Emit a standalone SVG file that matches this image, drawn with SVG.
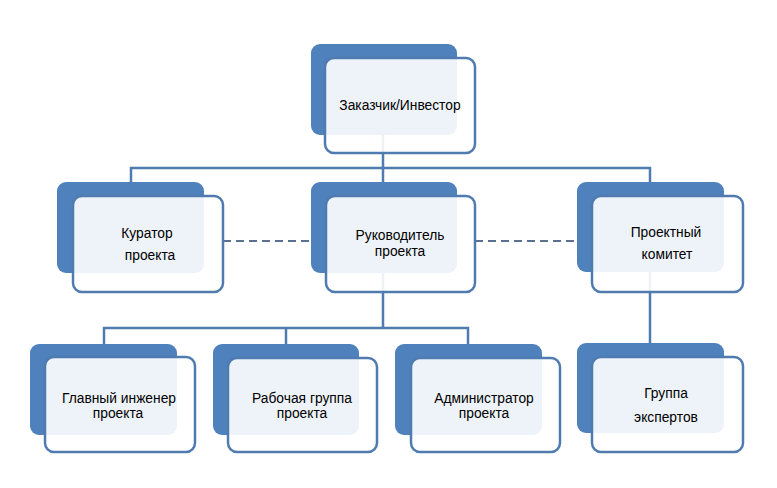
<svg xmlns="http://www.w3.org/2000/svg" width="777" height="488" viewBox="0 0 777 488">
<style>
.back{fill:#4f81bd;}
.front{fill:#ffffff;fill-opacity:0.9;stroke:#4f7bb0;stroke-width:2.5;}
.ln{fill:none;stroke:#4f7bb0;stroke-width:2.5;}
.dash{fill:none;stroke:#5b7190;stroke-width:2;stroke-dasharray:8 5;}
text{font-family:"Liberation Sans",Arial,sans-serif;font-size:13.8px;fill:#000;text-anchor:middle;}
</style>
<rect width="777" height="488" fill="#ffffff"/>
<g id="connectors">
<path class="ln" d="M383,135 V168 M131,182 V168 H650 V182 M383,168 V182"/>
<path class="ln" d="M383,273 V328 M104,344 V328 H468 V344 M286,328 V344"/>
<path class="ln" d="M650,272 V343"/>
<path class="dash" d="M223,241 H311"/>
<path class="dash" d="M475,241 H577"/>
</g>
<g id="n-zakazchik">
<rect class="back" x="311" y="44" width="146" height="91" rx="9"/>
<rect class="front" x="325" y="58" width="150" height="95" rx="9"/>
<text x="400" y="110">Заказчик/Инвестор</text>
</g>
<g id="n-kurator">
<rect class="back" x="57" y="182" width="147" height="91" rx="9"/>
<rect class="front" x="73" y="196" width="150" height="96" rx="9"/>
<text x="147" y="238">Куратор</text>
<text x="150" y="260">проекта</text>
</g>
<g id="n-rukovoditel">
<rect class="back" x="311" y="182" width="146" height="91" rx="9"/>
<rect class="front" x="326" y="196" width="149" height="96" rx="9"/>
<text x="400" y="240">Руководитель</text>
<text x="400" y="256">проекта</text>
</g>
<g id="n-komitet">
<rect class="back" x="577" y="182" width="147" height="90" rx="9"/>
<rect class="front" x="592" y="196" width="151" height="96" rx="9"/>
<text x="666" y="237">Проектный</text>
<text x="667" y="259">комитет</text>
</g>
<g id="n-inzhener">
<rect class="back" x="30" y="344" width="147" height="91" rx="9"/>
<rect class="front" x="45" y="357" width="150" height="95" rx="9"/>
<text x="119" y="403">Главный инженер</text>
<text x="118" y="418">проекта</text>
</g>
<g id="n-rabochaya">
<rect class="back" x="213" y="344" width="146" height="91" rx="9"/>
<rect class="front" x="228" y="358" width="149" height="94" rx="9"/>
<text x="302" y="403">Рабочая группа</text>
<text x="302" y="418">проекта</text>
</g>
<g id="n-admin">
<rect class="back" x="395" y="344" width="147" height="91" rx="9"/>
<rect class="front" x="411" y="358" width="149" height="94" rx="9"/>
<text x="484" y="403">Администратор</text>
<text x="484" y="418">проекта</text>
</g>
<g id="n-eksperty">
<rect class="back" x="577" y="343" width="147" height="90" rx="9"/>
<rect class="front" x="592" y="357" width="151" height="95" rx="9"/>
<text x="666" y="398">Группа</text>
<text x="666" y="422">экспертов</text>
</g>
</svg>
